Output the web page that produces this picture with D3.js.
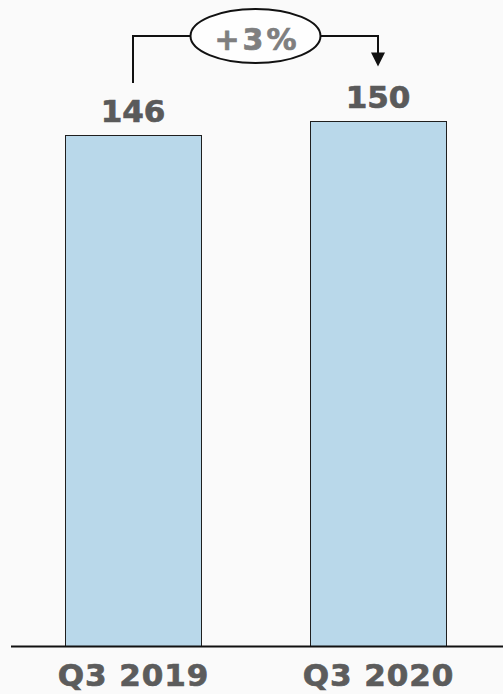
<!DOCTYPE html>
<html>
<head>
<meta charset="utf-8">
<script src="https://cdn.jsdelivr.net/npm/d3@7"></script>
<style>
  html, body { margin: 0; padding: 0; background: #fafafa; }
  svg { display: block; }
  text { font-family: "DejaVu Sans", Verdana, sans-serif; font-weight: bold; }
</style>
</head>
<body>
<svg id="chart" width="503" height="694"></svg>
<script>
const categories = ["Q3 2019", "Q3 2020"];
const values = [146, 150];
const changeLabel = "+3%";

const W = 503, H = 694;
const svg = d3.select("#chart");
svg.append("rect").attr("width", W).attr("height", H).attr("fill", "#fafafa");

const x = d3.scaleBand().domain(categories).range([10.5, 500.5]).paddingInner(0.445).paddingOuter(0.2225);
const y = d3.scaleLinear().domain([0, 150]).range([646, 121]);

// bars
svg.selectAll("rect.bar").data(values).join("rect")
  .attr("class", "bar")
  .attr("x", (d, i) => Math.round(x(categories[i])) + 0.5)
  .attr("y", d => Math.round(y(d)) + 0.5)
  .attr("width", Math.round(x.bandwidth()))
  .attr("height", d => y(0) - Math.round(y(d)))
  .attr("fill", "#b9d8ea")
  .attr("stroke", "#1f1f1f")
  .attr("stroke-width", 1);

// axis baseline
const axis = d3.axisBottom(x).tickSize(0).tickPadding(18);
const g = svg.append("g").attr("transform", `translate(0,${y(0) + 0.5})`).call(axis);
g.select(".domain").attr("stroke", "#111").attr("stroke-width", 2).attr("d", "M11,0H503");
g.selectAll(".tick text")
  .attr("font-family", '"DejaVu Sans", Verdana, sans-serif')
  .attr("font-weight", "bold")
  .attr("font-size", 31)
  .attr("letter-spacing", 0.9)
  .attr("fill", "#5c5c5c")
  .attr("stroke", "#5c5c5c")
  .attr("stroke-width", 0.7)
  .attr("dx", 0.45)
  .attr("dy", "0.68em");

// value labels
svg.selectAll("text.val").data(values).join("text")
  .attr("class", "val")
  .attr("x", (d, i) => x(categories[i]) + x.bandwidth() / 2)
  .attr("y", d => y(d) - 13)
  .attr("text-anchor", "middle")
  .attr("font-size", 31)
  .attr("fill", "#5a5a5a")
  .attr("stroke", "#5a5a5a")
  .attr("stroke-width", 0.7)
  .text(d => d);

// change annotation
const c1 = x(categories[0]) + x.bandwidth() / 2;
const c2 = x(categories[1]) + x.bandwidth() / 2;
const cy = 36;
const cx = (c1 + c2) / 2;
const rx = 65, ry = 27;
const ann = svg.append("g").attr("fill", "none").attr("stroke", "#111").attr("stroke-width", 2);
ann.append("path").attr("d", `M${c1},${y(values[0]) - 52}V${cy}H${cx - rx}`);
ann.append("path").attr("d", `M${cx + rx},${cy}H${c2}V${y(values[1]) - 66}`);
const tipY = y(values[1]) - 54.5;
svg.append("path")
  .attr("d", `M${c2 - 7},${tipY - 14}L${c2 + 7},${tipY - 14}L${c2},${tipY}Z`)
  .attr("fill", "#111");
svg.append("ellipse")
  .attr("cx", cx).attr("cy", cy).attr("rx", rx).attr("ry", ry)
  .attr("fill", "#fefefe").attr("stroke", "#111").attr("stroke-width", 2);
svg.append("text")
  .attr("x", cx + 1.5).attr("y", cy + 14)
  .attr("text-anchor", "middle")
  .attr("font-size", 30)
  .attr("letter-spacing", 3)
  .attr("fill", "#7f7f7f")
  .attr("stroke", "#7f7f7f")
  .attr("stroke-width", 0.7)
  .text(changeLabel);
</script>
</body>
</html>
